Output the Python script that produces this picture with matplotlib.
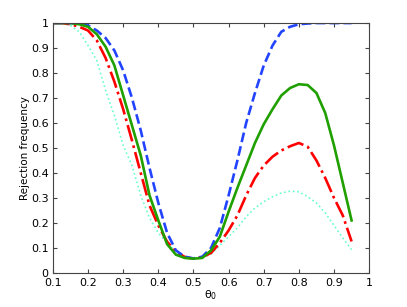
import matplotlib
matplotlib.use("Agg")
import matplotlib.pyplot as plt
import numpy as np

# theta_0 grid (step 0.025)
theta = np.round(np.arange(0.1, 0.9501, 0.025), 3)

# rejection frequencies
rej_blue = [1, 1, 1, 0.998, 0.99, 0.97, 0.94, 0.89, 0.81, 0.70, 0.57, 0.42,
            0.28, 0.16, 0.09, 0.065, 0.058, 0.065, 0.10, 0.18, 0.31, 0.45,
            0.60, 0.72, 0.83, 0.91, 0.965, 0.985, 0.995, 0.998, 1, 1, 1, 1, 1]
rej_green = [1, 1, 1, 0.995, 0.985, 0.955, 0.905, 0.83, 0.71, 0.59, 0.47,
             0.31, 0.21, 0.115, 0.073, 0.06, 0.057, 0.06, 0.09, 0.145, 0.245,
             0.34, 0.43, 0.52, 0.595, 0.655, 0.71, 0.74, 0.755, 0.752, 0.72,
             0.64, 0.51, 0.36, 0.21]
rej_red = [1, 1, 0.995, 0.985, 0.97, 0.93, 0.86, 0.765, 0.655, 0.53, 0.40,
           0.27, 0.19, 0.125, 0.085, 0.064, 0.057, 0.063, 0.08, 0.12, 0.17,
           0.23, 0.31, 0.38, 0.43, 0.465, 0.49, 0.507, 0.52, 0.505, 0.45,
           0.38, 0.30, 0.23, 0.126]
rej_cyan = [1, 1, 0.99, 0.965, 0.91, 0.85, 0.73, 0.63, 0.51, 0.43, 0.31,
            0.22, 0.16, 0.12, 0.085, 0.064, 0.057, 0.06, 0.075, 0.11, 0.145,
            0.18, 0.225, 0.26, 0.285, 0.305, 0.32, 0.327, 0.325, 0.305, 0.28,
            0.24, 0.19, 0.14, 0.093]

fig = plt.figure(figsize=(4.07, 3.07), dpi=100)
ax = fig.add_axes([0.130, 0.111, 0.777, 0.814])

ax.plot(theta, rej_cyan, color='#66ffcc', linestyle=':', linewidth=1.2)
ax.plot(theta, rej_red, color='#ff0000', linestyle='-.', linewidth=1.9)
ax.plot(theta, rej_blue, color='#2244ff', linestyle='--', linewidth=1.9)
ax.plot(theta, rej_green, color='#1fa000', linestyle='-', linewidth=1.9)

ax.set_xlim(0.1, 1)
ax.set_ylim(0, 1)
ax.set_xticks(np.arange(0.1, 1.001, 0.1))
ax.set_xticklabels(['0.1', '0.2', '0.3', '0.4', '0.5', '0.6', '0.7', '0.8', '0.9', '1'])
ax.set_yticks(np.arange(0, 1.001, 0.1))
ax.set_yticklabels(['0', '0.1', '0.2', '0.3', '0.4', '0.5', '0.6', '0.7', '0.8', '0.9', '1'])
ax.tick_params(direction='in', top=True, right=True, labelsize=8, length=3,
               color='#444444')
ax.tick_params(axis='x', pad=4)
ax.tick_params(axis='y', pad=3)
for s in ax.spines.values():
    s.set_color('#444444')
ax.set_xlabel(r'$\mathregular{\theta_0}$', fontsize=8, labelpad=0)
ax.set_ylabel('Rejection frequency', fontsize=7.5, labelpad=1)

fig.savefig('out.png', dpi=100)
